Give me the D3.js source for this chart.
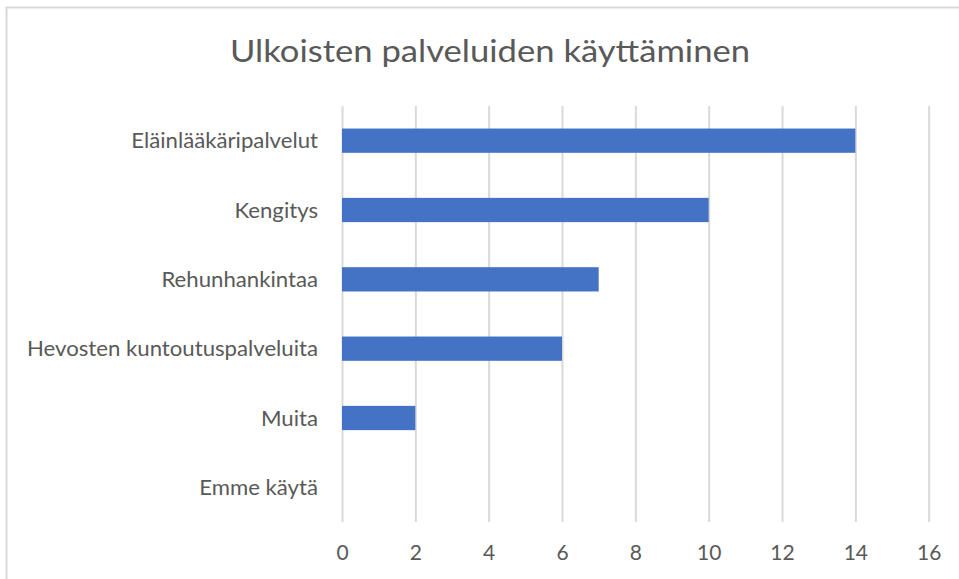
<!DOCTYPE html>
<html><head><meta charset="utf-8">
<script src="https://cdn.jsdelivr.net/npm/d3@7"></script>
<style>body{margin:0;background:#fff}svg{display:block}</style>
</head><body>
<script>
const categories = ["Eläinlääkäripalvelut","Kengitys","Rehunhankintaa","Hevosten kuntoutuspalveluita","Muita","Emme käytä"];
const values = [14,10,7,6,2,0];
const tickValues = [0,2,4,6,8,10,12,14,16];
const title = "Ulkoisten palveluiden käyttäminen";

const W=959,H=579;
const svg=d3.select("body").append("svg").attr("width",W).attr("height",H);
svg.append("rect").attr("x",6.5).attr("y",7.5).attr("width",W+10).attr("height",H+10)
  .attr("fill","#fff").attr("stroke","#d9d9d9").attr("stroke-width",2);

const font="Lato, 'Open Sans', sans-serif";
const x=d3.scaleLinear().domain([0,16]).range([342,928.7]);
const y=d3.scaleBand().domain(categories).range([106,522]).paddingInner(0.65).paddingOuter(0.325);

const t=svg.append("text").attr("x",490).attr("y",62).attr("text-anchor","middle")
  .attr("font-family",font).attr("font-size",31).attr("fill","#595959").text(title);
t.attr("textLength",520).attr("lengthAdjust","spacingAndGlyphs");

const gx=svg.append("g").attr("transform","translate(0,522)")
  .call(d3.axisBottom(x).tickValues(tickValues).tickSize(-416).tickPadding(0).tickFormat(d3.format("d")));
gx.select(".domain").remove();
gx.selectAll("line").attr("stroke","#d9d9d9").attr("stroke-width",2);
gx.selectAll("text").attr("font-family",font).attr("font-size",21).attr("fill","#595959")
  .attr("y",38).attr("dy",null);

svg.selectAll("rect.bar").data(values).join("rect").attr("class","bar")
  .attr("x",x(0)).attr("y",(d,i)=>y(categories[i])).attr("width",d=>x(d)-x(0))
  .attr("height",y.bandwidth()).attr("fill","#4472c4");

const gy=svg.append("g").attr("transform","translate(342,0)")
  .call(d3.axisLeft(y).tickSize(0).tickPadding(24));
gy.select(".domain").remove();
const labels=gy.selectAll("text").attr("font-family",font).attr("font-size",21).attr("fill","#595959")
  .attr("dy",null).attr("y",7.5);
let maxW=0; labels.each(function(){maxW=Math.max(maxW,this.getComputedTextLength());});
const f=291/maxW;
labels.each(function(){d3.select(this).attr("textLength",this.getComputedTextLength()*f).attr("lengthAdjust","spacingAndGlyphs");});
</script>
</body></html>
